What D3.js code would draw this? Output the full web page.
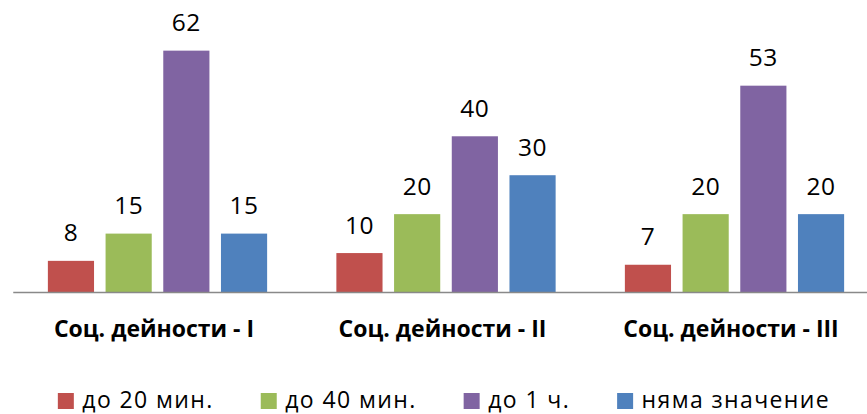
<!DOCTYPE html>
<html><head><meta charset="utf-8">
<script src="https://cdn.jsdelivr.net/npm/d3@7"></script>
<style>html,body{margin:0;padding:0;background:#fff;overflow:hidden}</style>
</head><body>
<svg id="c" width="867" height="414"></svg>
<script>
const categories = ["Соц. дейности - I", "Соц. дейности - II", "Соц. дейности - III"];
const seriesNames = ["до 20 мин.", "до 40 мин.", "до 1 ч.", "няма значение"];
const s20min = [8, 10, 7];
const s40min = [15, 20, 20];
const s1h = [62, 40, 53];
const sNone = [15, 30, 20];
const colors = ["#C0504D", "#9BBB59", "#8064A2", "#4F81BD"];

const seriesValues = [s20min, s40min, s1h, sNone];
const svg = d3.select("#c");
const font = "'Open Sans', sans-serif";

const x0 = d3.scaleBand().domain(categories).range([13.25, 878.75]).paddingInner(0).paddingOuter(0);
const x1 = d3.scaleBand().domain(seriesNames).range([0, x0.bandwidth()]).paddingInner(0.2).paddingOuter(0.6);
const y = d3.scaleLinear().domain([0, 70]).range([292, 19.5]);

const groups = svg.selectAll("g.grp").data(categories).join("g")
  .attr("class", "grp")
  .attr("transform", d => `translate(${x0(d)},0)`);

groups.each(function(cat, ci) {
  const g = d3.select(this);
  const data = seriesNames.map((s, si) => ({s, si, v: seriesValues[si][ci]}));
  g.selectAll("rect").data(data).join("rect")
    .attr("x", d => x1(d.s))
    .attr("y", d => y(d.v))
    .attr("width", x1.bandwidth())
    .attr("height", d => y(0) - y(d.v))
    .attr("fill", d => colors[d.si]);
  g.selectAll("text.val").data(data).join("text")
    .attr("class", "val")
    .attr("x", d => x1(d.s) + x1.bandwidth() / 2)
    .attr("y", d => y(d.v) - 19.5)
    .attr("text-anchor", "middle")
    .attr("font-family", font)
    .attr("font-size", 24.5)
    .attr("letter-spacing", 0.5)
    .attr("fill", "#000")
    .text(d => d.v);
});

// axis
const xAxis = d3.axisBottom(x0).tickSize(0).tickPadding(0).tickFormat("");
const ax = svg.append("g").attr("transform", `translate(0,${y(0)})`).call(xAxis);
ax.select(".domain").attr("stroke", "#898989").attr("stroke-width", 1.3).attr("d", `M${13.25},0.5H${878.75}`);

svg.append("g").selectAll("text").data(categories).join("text")
  .attr("x", d => x0(d) + x0.bandwidth() / 2 - 3.5)
  .attr("y", 337)
  .attr("text-anchor", "middle")
  .attr("font-family", font)
  .attr("font-weight", "bold")
  .attr("font-size", 23)
  .attr("fill", "#000")
  .text(d => d);

// legend
const leg = svg.append("g");
const items = leg.selectAll("g").data(seriesNames).join("g");
items.append("rect").attr("width", 16).attr("height", 16).attr("y", 393).attr("fill", (d, i) => colors[i]);
items.append("text").attr("x", 24.5).attr("y", 408.3)
  .attr("font-family", font).attr("font-size", 23).attr("letter-spacing", 1.4)
  .attr("fill", "#000").text(d => d);
let xpos = 0;
const pos = [];
items.each(function() {
  pos.push(xpos);
  const w = d3.select(this).select("text").node().getComputedTextLength();
  xpos += 24.5 + w + 47;
});
const total = xpos - 47;
const start = 444 - total / 2;
items.attr("transform", (d, i) => `translate(${start + pos[i]},0)`);
</script>
</body></html>
